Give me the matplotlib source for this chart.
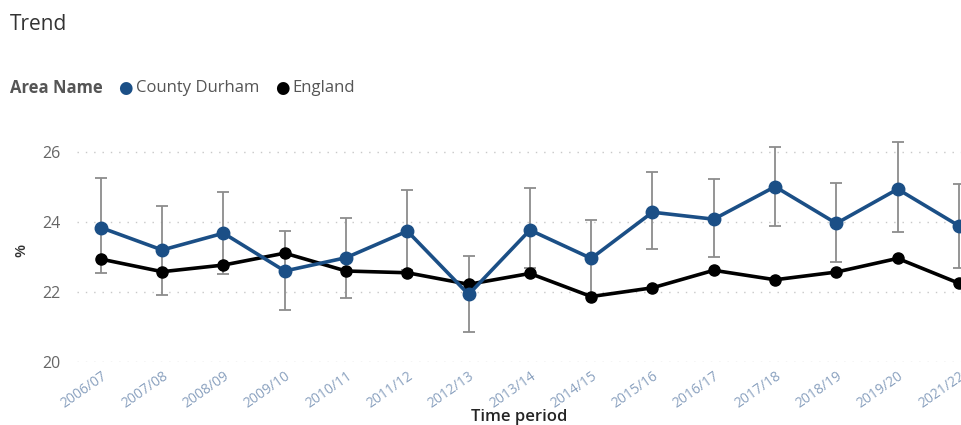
import matplotlib
matplotlib.use("Agg")
import matplotlib.pyplot as plt

periods = ["2006/07", "2007/08", "2008/09", "2009/10", "2010/11", "2011/12", "2012/13",
           "2013/14", "2014/15", "2015/16", "2016/17", "2017/18", "2018/19", "2019/20", "2021/22"]
durham = [23.84, 23.20, 23.68, 22.60, 22.98, 23.74, 21.93, 23.77, 22.96, 24.28, 24.08, 25.01, 23.96, 24.94, 23.89]
durham_upper = [25.27, 24.46, 24.86, 23.75, 24.10, 24.91, 23.03, 24.96, 24.06, 25.42, 25.23, 26.15, 25.12, 26.28, 25.08]
durham_lower = [22.54, 21.90, 22.51, 21.48, 21.82, 22.62, 20.86, 22.68, 21.90, 23.22, 23.00, 23.89, 22.85, 23.71, 22.69]
england = [22.94, 22.58, 22.77, 23.11, 22.60, 22.55, 22.22, 22.53, 21.87, 22.12, 22.62, 22.35, 22.57, 22.96, 22.25]
yticks = [20, 22, 24, 26]

BLUE = "#1b4f86"
plt.rcParams["font.family"] = ["Open Sans", "DejaVu Sans"]

fig = plt.figure(figsize=(9.62, 4.25), dpi=100)
ax = fig.add_axes([77 / 962, 63 / 425, 885 / 962, 224 / 425])

x = list(range(len(periods)))
err = [[d - lo for d, lo in zip(durham, durham_lower)],
       [hi - d for d, hi in zip(durham, durham_upper)]]
ax.errorbar(x, durham, yerr=err, fmt="none", ecolor="#8c8c8c", elinewidth=1.3,
            capsize=4.5, capthick=1.3, zorder=2)
ax.plot(x, england, color="black", lw=2.6, marker="o", ms=8, zorder=3)
ax.plot(x, durham, color=BLUE, lw=2.6, marker="o", ms=9, zorder=4)

ax.set_xlim(-0.39, 14.05)
ax.set_ylim(20, 26.4)
ax.set_yticks(yticks)
ax.set_xticks(x)
ax.set_xticklabels(periods, rotation=35, ha="right", rotation_mode="anchor",
                   color="#8aa1bf", fontsize=10)
ax.tick_params(axis="y", labelsize=11.5, labelcolor="#666666", length=0, pad=12)
ax.tick_params(axis="x", length=0, pad=5)
ax.grid(axis="y", color="#c8c8c8", linestyle=(0, (1, 5)), linewidth=1)
for s in ax.spines.values():
    s.set_visible(False)

ax.set_ylabel("%", fontsize=11, fontweight="semibold", color="#333333", labelpad=10)
ax.set_xlabel("Time period", fontsize=12, fontweight="semibold", color="#252525", labelpad=-2)

fig.text(10 / 962, 1 - 24 / 425, "Trend", fontsize=15, color="#333333", va="center")
fig.text(10 / 962, 1 - 88 / 425, "Area Name", fontsize=12, fontweight="bold",
         color="#555555", va="center")
fig.text(125 / 962, 1 - 88 / 425, "\u25CF", fontsize=12, color=BLUE, va="center", ha="center",
         family="DejaVu Sans")
fig.text(136 / 962, 1 - 88 / 425, "County Durham", fontsize=12, color="#555555", va="center")
fig.text(282 / 962, 1 - 88 / 425, "\u25CF", fontsize=12, color="black", va="center", ha="center",
         family="DejaVu Sans")
fig.text(292 / 962, 1 - 88 / 425, "England", fontsize=12, color="#555555", va="center")

fig.savefig("out.png", dpi=100)
